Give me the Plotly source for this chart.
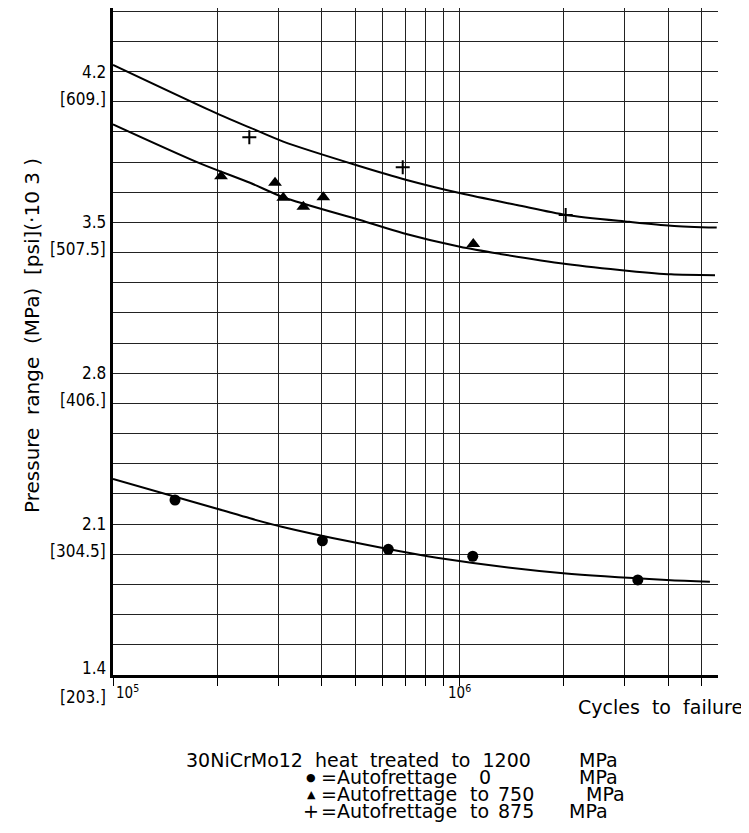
import plotly.graph_objects as go
import numpy as np

# ---------------- data ----------------
circle_cycles = [1.51e5, 4.02e5, 6.23e5, 1.092e6, 3.27e6]
circle_pressure = [2.212, 2.023, 1.983, 1.951, 1.841]

triangle_cycles = [2.05e5, 2.935e5, 3.10e5, 3.542e5, 4.045e5, 1.096e6]
triangle_pressure = [3.714, 3.684, 3.615, 3.573, 3.617, 3.400]

plus_cycles = [2.474e5, 6.857e5, 2.025e6]
plus_pressure = [3.895, 3.756, 3.535]

curve0_cycles = [1.0e5, 2.009e5, 2.485e5, 3.068e5, 4.83e5, 8.6e5, 1.993e6, 3.963e6, 5.28e6]
curve0_pressure = [2.310, 2.170, 2.127, 2.088, 2.019, 1.944, 1.872, 1.841, 1.833]

curve750_cycles = [1.0e5, 1.783e5, 2.485e5, 3.10e5, 5.163e5, 6.885e5, 1.003e6, 1.309e6,
                   2.03e6, 3.09e6, 4.078e6, 5.463e6]
curve750_pressure = [3.955, 3.774, 3.684, 3.617, 3.511, 3.450, 3.387, 3.354,
                     3.307, 3.275, 3.259, 3.255]

curve875_cycles = [1.0e5, 2.036e5, 2.485e5, 3.10e5, 5.105e5, 7.04e5, 1.008e6, 1.463e6,
                   2.03e6, 3.09e6, 4.078e6, 5.525e6]
curve875_pressure = [4.231, 3.999, 3.940, 3.875, 3.763, 3.697, 3.635, 3.581,
                     3.535, 3.503, 3.485, 3.476]

mpa_ticks = [1.4, 2.1, 2.8, 3.5, 4.2]
mpa_labels = ["1.4", "2.1", "2.8", "3.5", "4.2"]
psi_labels = ["[203.]", "[304.5]", "[406.]", "[507.5]", "[609.]"]

x_grid = [1e5, 2e5, 3e5, 4e5, 5e5, 6e5, 7e5, 8e5, 9e5, 1e6, 2e6, 3e6, 4e6, 5e6]
x_major = [1e5, 1e6]
x_major_labels = ["10<sup>5</sup>", "10<sup>6</sup>"]

y_title = "Pressure\u00a0\u00a0range\u00a0\u00a0(MPa)\u00a0\u00a0[psi](·10\u00a03\u00a0)"
x_title = "Cycles\u00a0\u00a0to\u00a0\u00a0failure"

# ---------------- figure geometry ----------------
OFF = 8                      # page body margin of the html page
W, H = 749 - OFF, 833 - OFF
L, R, T, B = 105, 31, 0, 158
PW, PH = W - L - R, H - T - B


def px_x(page_px):
    return (page_px - OFF - L) / PW


def px_y(page_py):
    return (H - B - (page_py - OFF)) / PH


CONDENSED = "DejaVu Sans Condensed, Liberation Sans Narrow, sans-serif"
ROUND = "DejaVu Sans, Verdana, sans-serif"

fig = go.Figure()

line_style = dict(color="black", width=2, shape="spline", smoothing=0.8)
for cx, cy in [(curve0_cycles, curve0_pressure),
               (curve750_cycles, curve750_pressure),
               (curve875_cycles, curve875_pressure)]:
    fig.add_trace(go.Scatter(x=cx, y=cy, mode="lines", line=line_style,
                             showlegend=False, hoverinfo="skip"))

fig.add_trace(go.Scatter(x=circle_cycles, y=circle_pressure, mode="markers",
                         marker=dict(symbol="circle", size=11, color="black"),
                         showlegend=False))
fig.add_trace(go.Scatter(x=triangle_cycles, y=triangle_pressure, mode="markers",
                         marker=dict(symbol="triangle-up", size=12, color="black"),
                         showlegend=False))
fig.add_trace(go.Scatter(x=plus_cycles, y=plus_pressure, mode="markers",
                         marker=dict(symbol="cross-thin", size=10,
                                     line=dict(color="black", width=2)),
                         showlegend=False))

annotations = []
tick_font = dict(family=CONDENSED, size=17, color="black")
# y tick labels (MPa on the line, psi in brackets below)
for v, m, p in zip(mpa_ticks, mpa_labels, psi_labels):
    bottom = (v == mpa_ticks[0])
    annotations.append(dict(x=0, xref="paper", y=v, yref="y", text=m,
                            xanchor="right", yanchor="middle", xshift=-5,
                            yshift=7 if bottom else 0, showarrow=False,
                            font=tick_font))
    annotations.append(dict(x=0, xref="paper", y=v, yref="y", text=p,
                            xanchor="right", yanchor="middle", xshift=-5,
                            yshift=-22 if bottom else -27, showarrow=False,
                            font=tick_font))

# x tick labels
for v, t in zip(x_major, x_major_labels):
    first = (v == x_major[0])
    annotations.append(dict(x=np.log10(v), xref="x", y=px_y(692), yref="paper",
                            text=t, xanchor="left" if first else "center",
                            xshift=1 if first else 0,
                            yanchor="middle", showarrow=False,
                            font=dict(family=CONDENSED, size=15, color="black")))

# axis titles
annotations.append(dict(x=px_x(745), y=px_y(707), xref="paper", yref="paper",
                        text=x_title, xanchor="right", yanchor="middle",
                        showarrow=False, font=dict(family=ROUND, size=19, color="black")))
annotations.append(dict(x=px_x(32), y=px_y(336), xref="paper", yref="paper",
                        text=y_title, textangle=-90, xanchor="center", yanchor="middle",
                        showarrow=False, font=dict(family=ROUND, size=20, color="black")))

# caption / key
cap_font = dict(family=ROUND, size=19, color="black")
caption_pieces = [
    (185, 760, "30NiCrMo12\u00a0\u00a0heat\u00a0\u00a0treated\u00a0\u00a0to\u00a0\u00a01200", "left"),
    (578, 760, "MPa", "left"),
    (311, 777, "●", "center"),
    (320, 777, "=Autofrettage", "left"),
    (478, 777, "0", "left"),
    (578, 777, "MPa", "left"),
    (311, 794, "▲", "center"),
    (320, 794, "=Autofrettage", "left"),
    (469, 794, "to", "left"),
    (497, 794, "750", "left"),
    (585, 794, "MPa", "left"),
    (311, 811, "+", "center"),
    (320, 811, "=Autofrettage", "left"),
    (469, 811, "to", "left"),
    (497, 811, "875", "left"),
    (568, 811, "MPa", "left"),
]
for px, py, txt, anc in caption_pieces:
    f = dict(cap_font)
    if txt in ("●", "▲"):
        f["size"] = 11
    annotations.append(dict(x=px_x(px), y=px_y(py), xref="paper", yref="paper",
                            text=txt, xanchor=anc, yanchor="middle", borderpad=0,
                            showarrow=False, font=f))

fig.update_layout(
    width=W, height=H, autosize=False,
    margin=dict(l=L, r=R, t=T, b=B, pad=0),
    paper_bgcolor="white", plot_bgcolor="white",
    showlegend=False,
    annotations=annotations,
    xaxis=dict(type="log", range=[5, 6.746], tickvals=x_grid, showticklabels=False,
               ticks="outside", ticklen=8, tickwidth=1, tickcolor="black",
               showgrid=True, gridcolor="#222222", gridwidth=1,
               showline=True, linecolor="black", linewidth=2.5, zeroline=False),
    yaxis=dict(range=[1.4, 4.495], tick0=1.4, dtick=0.14, showticklabels=False,
               ticks="", showgrid=True, gridcolor="#222222", gridwidth=1,
               showline=True, linecolor="black", linewidth=2.5, zeroline=False),
)

fig.write_html("out.html")
